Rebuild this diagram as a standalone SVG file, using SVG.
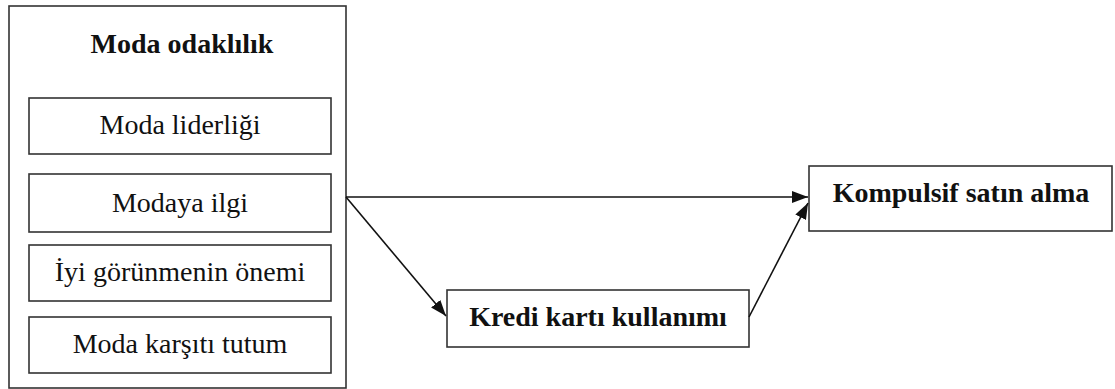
<svg xmlns="http://www.w3.org/2000/svg" width="1115" height="389" viewBox="0 0 1115 389">
  <style>
    .box { fill: #fff; stroke: #333; stroke-width: 1.6; }
    .lbl { font-family: "Liberation Serif", "Times New Roman", serif; font-size: 28px; fill: #111; text-anchor: middle; }
    .bold { font-weight: bold; }
    .link { stroke: #111; stroke-width: 1.6; fill: none; marker-end: url(#head); }
  </style>
  <defs>
    <marker id="head" markerUnits="userSpaceOnUse" markerWidth="16" markerHeight="12" viewBox="0 0 16 12" refX="16" refY="6" orient="auto">
      <path d="M0,0 L16,6 L0,12 Z" fill="#111"/>
    </marker>
  </defs>
  <rect width="1115" height="389" fill="#fff"/>

  <!-- Moda odaklılık container with its four dimensions -->
  <g id="moda-odaklilik">
    <rect class="box" x="9" y="6" width="337" height="382"/>
    <text class="lbl bold" x="182" y="53">Moda odaklılık</text>
  </g>
  <g id="moda-liderligi">
    <rect class="box" x="29" y="98" width="302" height="56"/>
    <text class="lbl" x="180" y="134">Moda liderliği</text>
  </g>
  <g id="modaya-ilgi">
    <rect class="box" x="29" y="174" width="302" height="58"/>
    <text class="lbl" x="180" y="212">Modaya ilgi</text>
  </g>
  <g id="iyi-gorunmenin-onemi">
    <rect class="box" x="29" y="245" width="302" height="56"/>
    <text class="lbl" x="180" y="281">İyi görünmenin önemi</text>
  </g>
  <g id="moda-karsiti-tutum">
    <rect class="box" x="29" y="317" width="302" height="56"/>
    <text class="lbl" x="180" y="353">Moda karşıtı tutum</text>
  </g>

  <!-- Mediator -->
  <g id="kredi-karti-kullanimi">
    <rect class="box" x="447" y="290" width="302" height="57"/>
    <text class="lbl bold" x="598" y="326">Kredi kartı kullanımı</text>
  </g>

  <!-- Outcome -->
  <g id="kompulsif-satin-alma">
    <rect class="box" x="809" y="166" width="303" height="65"/>
    <text class="lbl bold" x="961" y="202">Kompulsif satın alma</text>
  </g>

  <!-- Connectors -->
  <g id="connectors">
    <line class="link" x1="346" y1="197" x2="808" y2="197"/>
    <line class="link" x1="346" y1="197" x2="446" y2="316"/>
    <line class="link" x1="749" y1="317" x2="808" y2="203"/>
  </g>
</svg>
